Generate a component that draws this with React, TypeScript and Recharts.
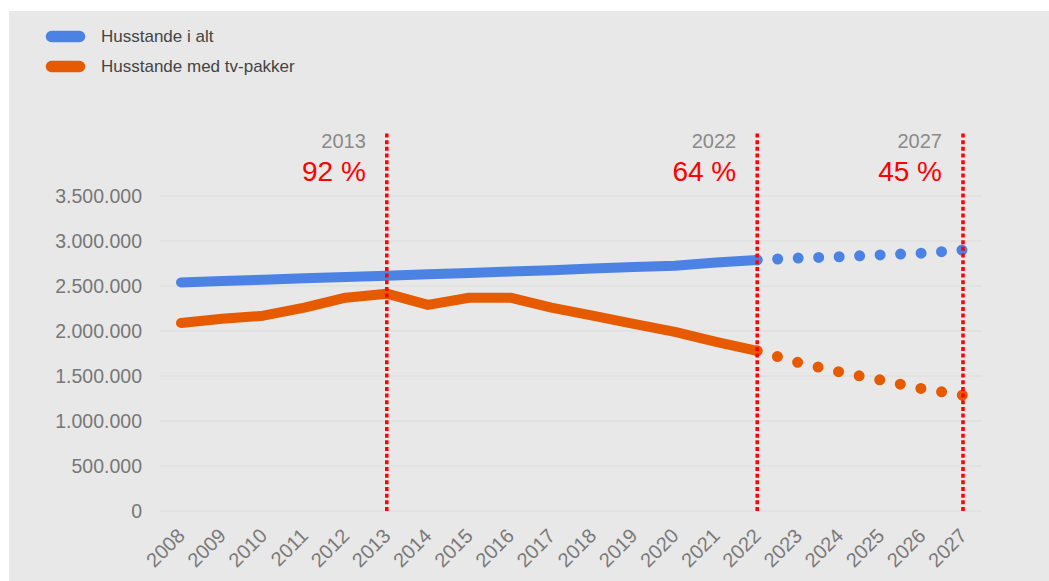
import { LineChart, Line, XAxis, YAxis, CartesianGrid, ReferenceLine } from 'recharts';

const years = [
  '2008', '2009', '2010', '2011', '2012', '2013', '2014', '2015', '2016', '2017',
  '2018', '2019', '2020', '2021', '2022', '2023', '2024', '2025', '2026', '2027',
];

// 2008-2022 actual
const husstandeIAlt = [
  2540000, 2555000, 2570000, 2585000, 2600000, 2615000, 2630000, 2645000, 2660000, 2675000,
  2695000, 2710000, 2725000, 2760000, 2790000,
];
const tvPakker = [
  2090000, 2135000, 2170000, 2260000, 2370000, 2415000, 2290000, 2370000, 2370000, 2260000,
  2170000, 2080000, 1990000, 1880000, 1780000,
];

// 2022-2027 forecast
const husstandeIAltPrognose = [2790000, 2810000, 2825000, 2845000, 2865000, 2900000];
const tvPakkerPrognose = [1780000, 1650000, 1545000, 1455000, 1360000, 1285000];

const yTicks = [0, 500000, 1000000, 1500000, 2000000, 2500000, 3000000, 3500000];

const markYears = ['2013', '2022', '2027'];
const markShares = ['92 %', '64 %', '45 %'];

const seriesNames = ['Husstande i alt', 'Husstande med tv-pakker'];
const BLUE = '#4c82e4';
const ORANGE = '#e65a00';
const seriesColors = [BLUE, ORANGE];

const FONT = "Arial, 'Liberation Sans', sans-serif";

const forecastStart = years.length - husstandeIAltPrognose.length;

const data = years.map((year, i) => ({
  year,
  total: i < husstandeIAlt.length ? husstandeIAlt[i] : null,
  totalForecast: i >= forecastStart ? husstandeIAltPrognose[i - forecastStart] : null,
  tv: i < tvPakker.length ? tvPakker[i] : null,
  tvForecast: i >= forecastStart ? tvPakkerPrognose[i - forecastStart] : null,
}));

const formatNumber = (v: number) => String(v).replace(/\B(?=(\d{3})+(?!\d))/g, '.');

const XTick = ({ x, y, payload }: any) => (
  <text
    x={x + 5}
    y={y + 18}
    transform={`rotate(-45 ${x + 5} ${y + 18})`}
    textAnchor="end"
    fill="#7a7a7a"
    fontSize={20}
    fontFamily={FONT}
  >
    {payload.value}
  </text>
);

const MarkLabel = ({ viewBox, year, share }: any) => {
  const { x, y } = viewBox;
  return (
    <g>
      <text x={x - 21} y={y + 15} textAnchor="end" fill="#8a8a8a" fontSize={20} fontFamily={FONT}>
        {year}
      </text>
      <text x={x - 21} y={y + 48} textAnchor="end" fill="#ff0000" fontSize={28} fontFamily={FONT}>
        {share}
      </text>
    </g>
  );
};

function LegendBox() {
  return (
    <svg width={400} height={90} style={{ position: 'absolute', left: 0, top: 0 }}>
      {seriesNames.map((name, i) => (
        <g key={name}>
          <line
            x1={51.5}
            x2={79.5}
            y1={36.5 + i * 30}
            y2={36.5 + i * 30}
            stroke={seriesColors[i]}
            strokeWidth={11.5}
            strokeLinecap="round"
          />
          <text x={101} y={42.3 + i * 30} fill="#444" fontSize={17} fontFamily={FONT}>
            {name}
          </text>
        </g>
      ))}
    </svg>
  );
}

export default function App() {
  return (
    <div style={{ position: 'absolute', left: 0, top: 0, width: 1049, height: 581, background: '#fff' }}>
      <div style={{ position: 'absolute', left: 9, top: 11, width: 1040, height: 570, background: '#e8e8e8' }}>
        <LineChart
          width={1040}
          height={570}
          data={data}
          margin={{ top: 122, right: 67, bottom: 0, left: 0 }}
          style={{ fontFamily: FONT }}
        >
          <CartesianGrid vertical={false} horizontalValues={yTicks} stroke="#dcdcdc" />
          <XAxis
            dataKey="year"
            height={70}
            interval={0}
            tickLine={false}
            axisLine={false}
            padding={{ left: 21, right: 19 }}
            tick={<XTick />}
          />
          <YAxis
            width={151}
            domain={[0, 4200000]}
            ticks={yTicks}
            tickFormatter={formatNumber}
            tickLine={false}
            axisLine={false}
            tickSize={6}
            tickMargin={12}
            tick={{ fill: '#777', fontSize: 19.5, fontFamily: FONT }}
          />
          <Line
            dataKey="total"
            stroke={BLUE}
            strokeWidth={10}
            strokeLinecap="round"
            strokeLinejoin="round"
            dot={false}
            activeDot={false}
            isAnimationActive={false}
          />
          <Line
            dataKey="totalForecast"
            stroke={BLUE}
            strokeWidth={11}
            strokeLinecap="round"
            strokeDasharray="0 20.5"
            dot={false}
            activeDot={false}
            isAnimationActive={false}
          />
          <Line
            dataKey="tv"
            stroke={ORANGE}
            strokeWidth={10}
            strokeLinecap="round"
            strokeLinejoin="round"
            dot={false}
            activeDot={false}
            isAnimationActive={false}
          />
          <Line
            dataKey="tvForecast"
            stroke={ORANGE}
            strokeWidth={11}
            strokeLinecap="round"
            strokeDasharray="0 21"
            dot={false}
            activeDot={false}
            isAnimationActive={false}
          />
          {markYears.map((year, i) => (
            <ReferenceLine
              key={year}
              x={year}
              stroke="#ff0000"
              strokeWidth={3.5}
              strokeDasharray="4 2.67"
              label={<MarkLabel year={year} share={markShares[i]} />}
            />
          ))}
        </LineChart>
      </div>
      <LegendBox />
    </div>
  );
}
